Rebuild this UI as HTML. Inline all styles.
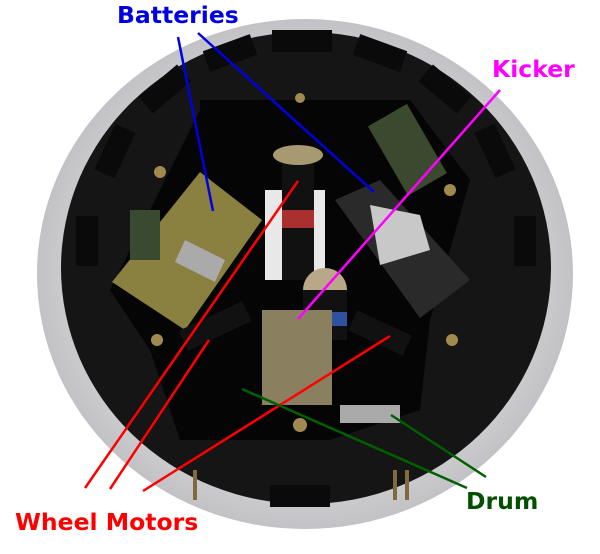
<!DOCTYPE html>
<html><head><style>
html,body{margin:0;padding:0;background:#fff;}
svg{display:block}
text{font-family:"DejaVu Sans","Liberation Sans",sans-serif;font-weight:bold;font-size:23.5px}
</style></head><body>
<svg width="600" height="554" viewBox="0 0 600 554">
<defs>
<radialGradient id="g" cx="0.5" cy="0.5" r="0.5">
<stop offset="0.7" stop-color="#dcdcdc"/><stop offset="1" stop-color="#c2c2c6"/>
</radialGradient>
</defs>
<ellipse cx="305" cy="274" rx="268" ry="255" fill="url(#g)"/>
<ellipse cx="306" cy="268" rx="245" ry="236" fill="#151515"/>
<g fill="#0a0a0a">
<rect x="272" y="30" width="60" height="22"/>
<rect x="355" y="42" width="50" height="22" transform="rotate(20 380 53)"/>
<rect x="205" y="42" width="50" height="22" transform="rotate(-20 230 53)"/>
<rect x="420" y="78" width="50" height="22" transform="rotate(40 445 89)"/>
<rect x="140" y="78" width="50" height="22" transform="rotate(-40 165 89)"/>
<rect x="470" y="140" width="50" height="22" transform="rotate(65 495 151)"/>
<rect x="90" y="140" width="50" height="22" transform="rotate(-65 115 151)"/>
<rect x="500" y="230" width="50" height="22" transform="rotate(90 525 241)"/>
<rect x="62" y="230" width="50" height="22" transform="rotate(-90 87 241)"/>
<rect x="270" y="485" width="60" height="22"/>
</g>
<polygon points="200,100 410,100 470,180 430,320 420,410 330,440 180,440 150,350 110,290 200,110" fill="#050505"/>
<polygon points="112,282 200,172 262,220 185,330" fill="#8a8040"/>
<polygon points="185,240 225,260 215,282 175,262" fill="#aaa"/>
<rect x="130" y="210" width="30" height="50" fill="#3a4a30"/>
<polygon points="335,200 380,180 470,280 420,318" fill="#2a2a2a"/>
<polygon points="370,205 420,215 430,250 380,265" fill="#c8c8c8"/>
<rect x="385" y="110" width="45" height="80" fill="#3b4a2e" transform="rotate(-30 407 150)"/>
<rect x="265" y="190" width="60" height="90" fill="#e8e8e8"/>
<rect x="282" y="150" width="32" height="130" fill="#111"/>
<ellipse cx="298" cy="155" rx="25" ry="10" fill="#a89a70"/>
<rect x="282" y="210" width="32" height="18" fill="#aa3030"/>
<ellipse cx="325" cy="290" rx="22" ry="22" fill="#b8a888"/>
<rect x="303" y="290" width="44" height="50" fill="#111"/>
<rect x="303" y="312" width="44" height="14" fill="#3050a0"/>
<rect x="262" y="310" width="70" height="95" fill="#8a8060"/>
<rect x="180" y="315" width="70" height="22" fill="#111" transform="rotate(-25 215 326)"/>
<rect x="350" y="322" width="60" height="22" fill="#111" transform="rotate(25 380 333)"/>
<rect x="340" y="405" width="60" height="18" fill="#aaa"/>
<g fill="#a08a50"><circle cx="160" cy="172" r="6"/><circle cx="450" cy="190" r="6"/><circle cx="157" cy="340" r="6"/><circle cx="452" cy="340" r="6"/><circle cx="300" cy="98" r="5"/><circle cx="300" cy="425" r="7"/></g>
<g stroke="#806a40" stroke-width="4"><line x1="195" y1="470" x2="195" y2="500"/><line x1="395" y1="470" x2="395" y2="500"/><line x1="407" y1="470" x2="407" y2="500"/></g>
<g stroke-width="2.5" fill="none">
<line x1="178" y1="37" x2="213" y2="211" stroke="#0000e0"/>
<line x1="198" y1="33" x2="374" y2="192" stroke="#0000e0"/>
<line x1="500" y1="90" x2="298" y2="319" stroke="#ff00ff"/>
<line x1="85" y1="488" x2="298" y2="181" stroke="#ff0000"/>
<line x1="110" y1="489" x2="209" y2="340" stroke="#ff0000"/>
<line x1="143" y1="491" x2="390" y2="336" stroke="#ff0000"/>
<line x1="242" y1="389" x2="467" y2="488" stroke="#006000"/>
<line x1="391" y1="415" x2="486" y2="477" stroke="#006000"/>
</g>
<text x="117" y="23" fill="#0000e0">Batteries</text>
<text x="492" y="77" fill="#ff00ff">Kicker</text>
<text x="15" y="530" fill="#ff0000">Wheel Motors</text>
<text x="466" y="509" fill="#005000">Drum</text>
</svg>
</body></html>
